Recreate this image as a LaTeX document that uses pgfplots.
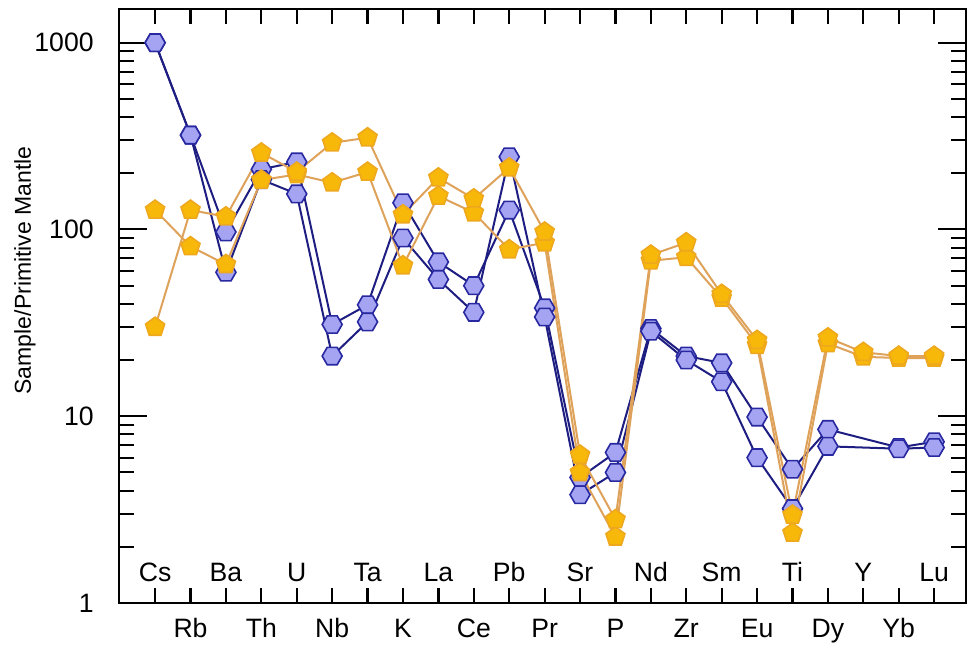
\documentclass[border=0pt]{standalone}
\usepackage{pgfplots}
\pgfplotsset{compat=1.18}
\usepackage{fontspec}
\setmainfont{Liberation Sans}
\usetikzlibrary{plotmarks}

% flat-topped hexagon marker
\pgfdeclareplotmark{hexagon*}{%
  \pgfpathmoveto{\pgfqpointpolar{0}{\pgfplotmarksize}}%
  \pgfpathlineto{\pgfqpointpolar{60}{\pgfplotmarksize}}%
  \pgfpathlineto{\pgfqpointpolar{120}{\pgfplotmarksize}}%
  \pgfpathlineto{\pgfqpointpolar{180}{\pgfplotmarksize}}%
  \pgfpathlineto{\pgfqpointpolar{240}{\pgfplotmarksize}}%
  \pgfpathlineto{\pgfqpointpolar{300}{\pgfplotmarksize}}%
  \pgfpathclose
  \pgfusepathqfillstroke}

\definecolor{bluefill}{RGB}{164,164,242}
\definecolor{blueedge}{RGB}{40,40,160}
\definecolor{blueline}{RGB}{30,30,130}
\definecolor{orgfill}{RGB}{247,184,10}
\definecolor{orgedge}{RGB}{238,168,30}
\definecolor{orgline}{RGB}{222,162,90}

% labels of the even elements sit inside the frame
\newcommand{\up}[1]{\raisebox{27.6pt}{#1}}

\begin{document}
\begin{tikzpicture}
\begin{axis}[
  scale only axis,
  width=423.5pt, height=297pt,
  ymode=log,
  xmin=-1.02, xmax=22.9,
  ymin=1, ymax=1515,
  axis line style={line width=1.2pt, black},
  tick align=inside,
  tick pos=both,
  major tick length=7pt,
  minor tick length=7.5pt,
  tick style={black, line width=1pt},
  xtick={0,...,22},
  xticklabels={\up{Cs},Rb,\up{Ba},Th,\up{U},Nb,\up{Ta},K,\up{La},Ce,\up{Pb},Pr,\up{Sr},P,\up{Nd},Zr,\up{Sm},Eu,\up{Ti},Dy,\up{Y},Yb,\up{Lu}},
  x tick label style={anchor=base, yshift=-17pt, font=\fontsize{13.3}{16}\selectfont},
  ytick={1,10,100,1000},
  yticklabels={1,10,100,1000},
  minor ytick={2,3,4,5,6,7,8,9,20,30,40,50,60,70,80,90,200,300,400,500,600,700,800,900},
  y tick label style={inner sep=0pt, xshift=-12.5pt, font=\fontsize{13.3}{16}\selectfont},
  % longer decade ticks on both vertical edges
  extra y ticks={1,10,100,1000},
  extra y tick labels={},
  extra y tick style={major tick length=14pt},
  /pgf/number format/assume math mode=true,
  ylabel={Sample/Primitive Mantle},
  ylabel style={at={(rel axis cs:-0.111,0.56)}, anchor=center, font=\fontsize{11.5}{14}\selectfont},
  clip=false,
]
% samples of the first group
\addplot[color=blueline, line width=1pt, mark=hexagon*, mark size=5pt,
  mark options={solid, fill=bluefill, draw=blueedge, line width=0.8pt}]
  coordinates {(0,1000) (1,320) (2,97) (3,210) (4,230) (5,31) (6,39.5) (7,139)
  (8,67) (9,50) (10,127) (11,38) (12,4.7) (13,6.4) (14,29.5) (15,21) (16,19.3)
  (17,9.9) (18,5.2) (19,8.5) (21,6.8) (22,7.3)};
\addplot[color=blueline, line width=1pt, mark=hexagon*, mark size=5pt,
  mark options={solid, fill=bluefill, draw=blueedge, line width=0.8pt}]
  coordinates {(0,1000) (1,320) (2,59) (3,185) (4,155) (5,21) (6,32) (7,90)
  (8,54) (9,36) (10,245) (11,34) (12,3.8) (13,5.0) (14,28.5) (15,20) (16,15.3)
  (17,6.0) (18,3.2) (19,6.9) (21,6.7) (22,6.8)};
% samples of the second group
\addplot[color=orgline, line width=1pt, mark=pentagon*, mark size=5pt,
  mark options={solid, fill=orgfill, draw=orgedge, line width=0.8pt}]
  coordinates {(0,127) (1,81) (2,65) (3,184) (4,197) (5,178) (6,203) (7,64)
  (8,151) (9,123) (10,78) (11,85) (12,5.0) (13,2.26) (14,68) (15,71) (16,43)
  (17,24) (18,2.37) (19,24.5) (20,20.8) (21,20.5) (22,20.5)};
\addplot[color=orgline, line width=1pt, mark=pentagon*, mark size=5pt,
  mark options={solid, fill=orgfill, draw=orgedge, line width=0.8pt}]
  coordinates {(0,30) (1,127) (2,117) (3,257) (4,203) (5,291) (6,310) (7,120)
  (8,189) (9,146) (10,214) (11,97) (12,6.2) (13,2.8) (14,73) (15,85) (16,45)
  (17,25.5) (18,2.96) (19,26.3) (20,22) (21,21) (22,21)};
\coordinate (bl) at (rel axis cs:0,0);
\coordinate (tr) at (rel axis cs:1,1);
\end{axis}
% element ticks along the bottom and top edges
\foreach \dx in {18.06,35.76,53.47,71.17,88.88,106.58,124.29,141.99,159.70,177.40,
                 195.11,212.81,230.52,248.22,265.93,283.63,301.34,319.04,336.75,
                 354.45,372.16,389.86,407.57}{
  \draw[draw=black, line width=1.1pt] (bl) ++(\dx pt,0pt) -- ++(0pt,7.5pt);
  \draw[draw=black, line width=1.1pt] (bl |- tr) ++(\dx pt,0pt) -- ++(0pt,-7.5pt);
}
\path (bl) ++(-59.5pt,-22pt) (tr) ++(1pt,4.5pt);
\end{tikzpicture}
\end{document}
